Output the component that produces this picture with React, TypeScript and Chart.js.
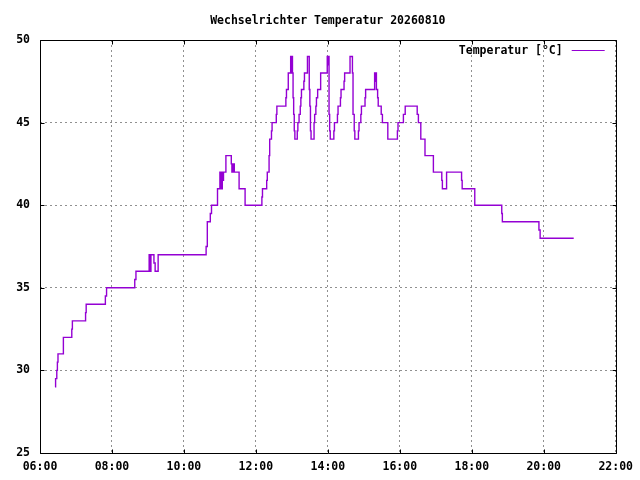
import React, { useEffect, useRef } from 'react';
import { Chart, registerables } from 'chart.js';

Chart.register(...registerables);

const chartTitle = 'Wechselrichter Temperatur 20260810';
const seriesLabel = 'Temperatur [°C]';
const lineColor = '#9400d3';

// time of each change (HH:MM) and the temperature from then on
const times = [
  '06:25', '06:26', '06:28', '06:29', '06:30', '06:39', '06:53', '06:54', '07:16', '07:17',
  '07:49', '07:51', '08:38', '08:40', '09:02', '09:04', '09:05', '09:10', '09:12', '09:17',
  '10:37', '10:39', '10:44', '10:46', '10:56', '11:00', '11:01', '11:02', '11:03', '11:04',
  '11:05', '11:06', '11:10', '11:19', '11:20', '11:21', '11:22', '11:23', '11:24', '11:32',
  '11:42', '12:10', '12:11', '12:18', '12:19', '12:22', '12:23', '12:26', '12:27', '12:34',
  '12:35', '12:50', '12:51', '12:54', '12:58', '12:59', '13:00', '13:01', '13:02', '13:03',
  '13:04', '13:05', '13:09', '13:10', '13:12', '13:14', '13:15', '13:16', '13:20', '13:21',
  '13:26', '13:29', '13:30', '13:31', '13:32', '13:37', '13:38', '13:40', '13:41', '13:43',
  '13:48', '13:59', '14:00', '14:01', '14:02', '14:03', '14:04', '14:10', '14:11', '14:16',
  '14:17', '14:21', '14:22', '14:27', '14:28', '14:37', '14:41', '14:42', '14:44', '14:45',
  '14:51', '14:52', '14:55', '14:56', '15:02', '15:03', '15:18', '15:19', '15:20', '15:21',
  '15:23', '15:24', '15:29', '15:31', '15:40', '15:56', '15:57', '16:06', '16:09', '16:29',
  '16:31', '16:35', '16:42', '16:56', '17:10', '17:11', '17:18', '17:43', '17:44', '18:05',
  '18:50', '18:51', '19:52', '19:54', '20:50',
];

const temps = [
  29, 29.5, 30, 30.5, 31, 32, 32.5, 33, 33.5, 34,
  34.5, 35, 35.5, 36, 37, 36, 37, 36.5, 36, 37,
  37.5, 39, 39.5, 40, 41, 42, 41, 42, 41, 42,
  41.5, 42, 43, 42.5, 42, 42.5, 42, 42.5, 42, 41,
  40, 40.5, 41, 41.5, 42, 43, 44, 44.5, 45, 45.5,
  46, 46.5, 47, 48, 49, 48, 49, 48, 46.5, 45.5,
  44.5, 44, 44.5, 45, 45.5, 46, 46.5, 47, 47.5, 48,
  49, 47, 46, 44.5, 44, 45, 45.5, 46, 46.5, 47,
  48, 49, 48.5, 49, 45.5, 44.5, 44, 44.5, 45, 45.5,
  46, 46.5, 47, 47.5, 48, 49, 48, 45.5, 44.5, 44,
  44.5, 45, 45.5, 46, 46.5, 47, 48, 47.5, 48, 47,
  46.5, 46, 45.5, 45, 44, 44.5, 45, 45.5, 46, 45.5,
  45, 44, 43, 42, 41.5, 41, 42, 41.5, 41, 40,
  39.5, 39, 38.5, 38, 38,
];

const xTickLabels = ['06:00', '08:00', '10:00', '12:00', '14:00', '16:00', '18:00', '20:00', '22:00'];
const yTickValues = [25, 30, 35, 40, 45, 50];

const FONT = '"DejaVu Sans Mono", "Liberation Mono", monospace';

function toMinutes(s: string): number {
  const [h, m] = s.split(':').map(Number);
  return h * 60 + m;
}

const gnuFrame = {
  id: 'gnuFrame',
  afterDatasetsDraw(chart: any) {
    const { ctx, chartArea: a, scales } = chart;
    const L = Math.round(a.left) + 0.5;
    const R = Math.round(a.right) + 0.5;
    const T = Math.round(a.top) + 0.5;
    const B = Math.round(a.bottom) + 0.5;
    const tl = 4;
    ctx.save();
    ctx.strokeStyle = '#000';
    ctx.lineWidth = 1;
    ctx.setLineDash([]);
    ctx.beginPath();
    ctx.rect(L, T, R - L, B - T);
    scales.x.ticks.forEach((t: any) => {
      const px = Math.round(scales.x.getPixelForValue(t.value)) + 0.5;
      ctx.moveTo(px, B);
      ctx.lineTo(px, B - tl);
      ctx.moveTo(px, T);
      ctx.lineTo(px, T + tl);
    });
    scales.y.ticks.forEach((t: any) => {
      const py = Math.round(scales.y.getPixelForValue(t.value)) + 0.5;
      ctx.moveTo(L, py);
      ctx.lineTo(L + tl, py);
      ctx.moveTo(R, py);
      ctx.lineTo(R - tl, py);
    });
    ctx.stroke();

    // key (gnuplot style: text, then line sample), top right inside plot
    const ds = chart.data.datasets[0];
    const ky = Math.round(a.top) + 10.5;
    const lineEnd = a.right - 11;
    const lineStart = lineEnd - 33;
    ctx.font = `bold 11.5px ${FONT}`;
    ctx.fillStyle = '#000';
    ctx.textAlign = 'right';
    ctx.textBaseline = 'middle';
    ctx.fillText(ds.label, lineStart - 9, ky + 1);
    ctx.strokeStyle = ds.borderColor;
    ctx.beginPath();
    ctx.moveTo(lineStart, ky);
    ctx.lineTo(lineEnd, ky);
    ctx.stroke();
    ctx.restore();
  },
};

export default function App() {
  const ref = useRef<HTMLCanvasElement | null>(null);

  useEffect(() => {
    if (!ref.current) return;
    const data = times.map((t, i) => ({ x: toMinutes(t), y: temps[i] }));
    const xMin = toMinutes(xTickLabels[0]);
    const xMax = toMinutes(xTickLabels[xTickLabels.length - 1]);
    const chart = new Chart(ref.current, {
      type: 'line',
      data: {
        datasets: [
          {
            label: seriesLabel,
            data,
            borderColor: lineColor,
            backgroundColor: lineColor,
            borderWidth: 1.4,
            pointRadius: 0,
            stepped: 'before',
            fill: false,
          },
        ],
      },
      options: {
        animation: false,
        responsive: false,
        devicePixelRatio: 1,
        layout: { padding: { left: 0, right: 24, top: 0, bottom: 0 } },
        plugins: {
          legend: { display: false },
          tooltip: { enabled: false },
          title: {
            display: true,
            text: chartTitle,
            fullSize: false,
            color: '#000',
            font: { family: FONT, size: 11.5, weight: 'bold', lineHeight: 1.2 },
            padding: { top: 14, bottom: 12.2 },
          },
        },
        scales: {
          x: {
            type: 'linear',
            min: xMin,
            max: xMax,
            afterFit: (s: any) => {
              s.height = 27;
            },
            afterBuildTicks: (s: any) => {
              s.ticks = xTickLabels.map((l) => ({ value: toMinutes(l) }));
            },
            ticks: {
              color: '#000',
              padding: 7,
              maxRotation: 0,
              autoSkip: false,
              font: { family: FONT, size: 11.5, weight: 'bold' },
              callback: (v: any) => {
                const l = xTickLabels.find((s) => toMinutes(s) === Number(v));
                return l ?? '';
              },
            },
            grid: { color: '#909090', lineWidth: 1, drawTicks: false },
            border: { display: false, dash: [2, 3] },
          },
          y: {
            type: 'linear',
            min: yTickValues[0],
            max: yTickValues[yTickValues.length - 1],
            afterFit: (s: any) => {
              s.width = 40;
            },
            afterBuildTicks: (s: any) => {
              s.ticks = yTickValues.map((v) => ({ value: v }));
            },
            ticks: {
              color: '#000',
              padding: 10,
              autoSkip: false,
              font: { family: FONT, size: 11.5, weight: 'bold' },
              callback: (v: any) => String(v),
            },
            grid: { color: '#909090', lineWidth: 1, drawTicks: false },
            border: { display: false, dash: [2, 3] },
          },
        },
      },
      plugins: [gnuFrame],
    });
    return () => chart.destroy();
  }, []);

  return (
    <div style={{ position: 'fixed', left: 0, top: 0, width: 640, height: 480, background: '#fff' }}>
      <canvas ref={ref} width={640} height={480} style={{ display: 'block', width: 640, height: 480 }} />
    </div>
  );
}
